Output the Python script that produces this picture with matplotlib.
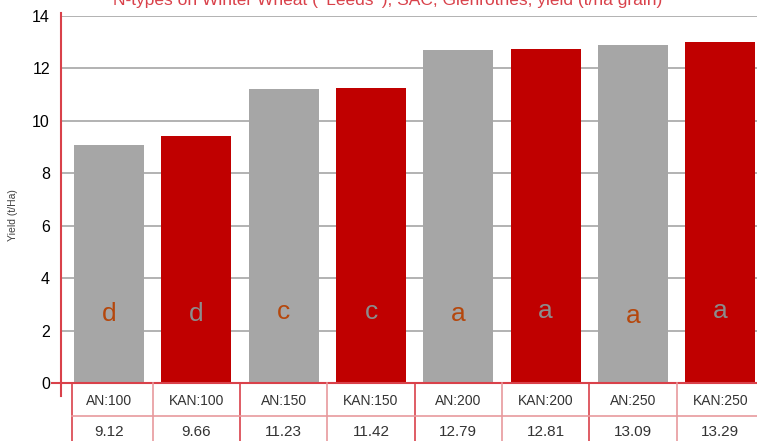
import matplotlib.pyplot as plt
import matplotlib.transforms as mtransforms

# --- Data ---
categories = ['AN:100', 'KAN:100', 'AN:150', 'KAN:150', 'AN:200', 'KAN:200', 'AN:250', 'KAN:250']
bar_heights = [9.08, 9.43, 11.22, 11.26, 12.71, 12.75, 12.90, 13.02]   # as drawn
table_values = ['9.12', '9.66', '11.23', '11.42', '12.79', '12.81', '13.09', '13.29']
sig_letters = ['d', 'd', 'c', 'c', 'a', 'a', 'a', 'a']
letter_y = [2.65, 2.65, 2.7, 2.7, 2.65, 2.75, 2.55, 2.75]
bar_colors = ['#a6a6a6', '#c00000'] * 4
letter_colors = ['#b5470c', '#8c8c8c'] * 4

plt.rcParams['font.family'] = ['Liberation Sans', 'DejaVu Sans']

W, H = 757, 441
fig = plt.figure(figsize=(W / 100, H / 100), dpi=100)
# axes runs past the right edge, like the cropped original
ax = fig.add_axes([61 / W, 58 / H, 703 / W, 367 / H])

x = list(range(len(categories)))
ax.bar(x, bar_heights, width=0.8, color=bar_colors, zorder=2)
ax.set_xlim(-0.55, 7.5)
ax.set_ylim(0, 14)
ax.set_yticks(range(0, 15, 2))
ax.tick_params(axis='y', length=0, labelsize=11.5, pad=8)
ax.set_xticks([])
ax.grid(axis='y', color='#a6a6a6', linewidth=1.2, zorder=0)
for s in ax.spines.values():
    s.set_visible(False)

red_line = '#d9414a'
pink_line = '#e8999d'

# axis lines
ax.plot([-0.55, -0.55], [-0.5, 14.1], color=red_line, lw=1.5, clip_on=False, zorder=3)
ax.plot([-0.65, 7.5], [0, 0], color=red_line, lw=1.5, clip_on=False, zorder=3)

# significance letters
for i in x:
    ax.text(i, letter_y[i], sig_letters[i], ha='center', va='center',
            fontsize=19, color=letter_colors[i], zorder=4)

ax.set_ylabel('Yield (t/Ha)', fontsize=7.5, color='#404040')
ax.yaxis.set_label_coords((18 - 61) / 703, 0.458)

# data table below the axis
trans = mtransforms.blended_transform_factory(ax.transData, fig.transFigure)
for k in range(len(categories)):
    xb = k - 0.5 + (0.08 if k == 0 else 0)
    fig.add_artist(plt.Line2D([xb, xb], [0, 58 / H], transform=trans,
                              color=red_line if k % 2 == 0 else pink_line, lw=1.2))
fig.add_artist(plt.Line2D([7.5, 7.5], [0, 58 / H], transform=trans, color=red_line, lw=1.2))
fig.add_artist(plt.Line2D([-0.42, 7.5], [(H - 416) / H] * 2, transform=trans,
                          color=pink_line, lw=1.2))
for i in x:
    fig.text(i, (H - 401) / H, categories[i], transform=trans, ha='center', va='center',
             fontsize=10, color='#333333')
    fig.text(i, (H - 432) / H, table_values[i], transform=trans, ha='center', va='center',
             fontsize=11, color='#333333')

# title, clipped by the top of the image as in the original
fig.text(388 / W, 1 - 5 / H, "N-types on Winter Wheat ( 'Leeds' ), SAC, Glenrothes, yield (t/ha grain)",
         ha='center', va='baseline', fontsize=12.5, color=red_line)

fig.savefig('out.png', dpi=100)
